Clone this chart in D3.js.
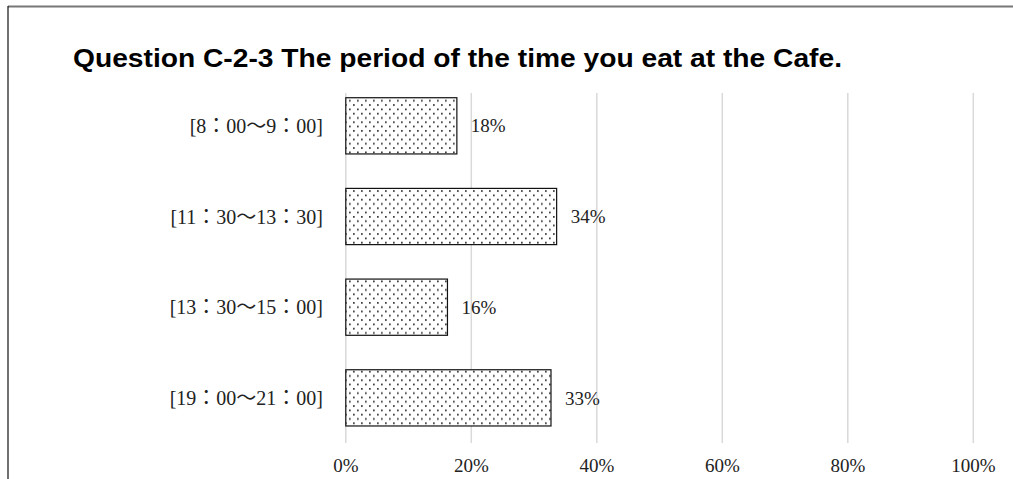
<!DOCTYPE html>
<html>
<head>
<meta charset="utf-8">
<script src="https://cdn.jsdelivr.net/npm/d3@7"></script>
<style>
  html, body { margin: 0; padding: 0; background: #fff; }
  svg { display: block; }
</style>
</head>
<body>
<svg id="chart" width="1013" height="479"></svg>
<script>
const title = "Question C-2-3 The period of the time you eat at the Cafe.";
const categories = ["[8：00～9：00]", "[11：30～13：30]", "[13：30～15：00]", "[19：00～21：00]"];
const values = [0.177, 0.336, 0.162, 0.327];
const dataLabels = ["18%", "34%", "16%", "33%"];
const ticks = [0, 0.2, 0.4, 0.6, 0.8, 1.0];
const tickLabels = ["0%", "20%", "40%", "60%", "80%", "100%"];

const svg = d3.select("#chart");
const serif = "'Liberation Serif', 'Noto Sans CJK JP', serif";

// pattern
const defs = svg.append("defs");
const pat = defs.append("pattern").attr("id", "dots")
  .attr("patternUnits", "userSpaceOnUse").attr("width", 8).attr("height", 8.6);
pat.append("rect").attr("width", 8).attr("height", 8.6).attr("fill", "#fff");
pat.append("rect").attr("x", 1).attr("y", 1).attr("width", 1.7).attr("height", 1.7).attr("fill", "#333");
pat.append("rect").attr("x", 5).attr("y", 5.3).attr("width", 1.7).attr("height", 1.7).attr("fill", "#333");

// frame
svg.append("line").attr("x1", 8).attr("x2", 1013).attr("y1", 6.5).attr("y2", 6.5)
  .attr("stroke", "#777").attr("stroke-width", 2);
svg.append("line").attr("x1", 8).attr("x2", 8).attr("y1", 6).attr("y2", 479)
  .attr("stroke", "#111").attr("stroke-width", 1.2);

// title
svg.append("text").attr("x", 73).attr("y", 67)
  .attr("font-family", "'Liberation Sans', Arial, sans-serif")
  .attr("font-weight", "bold").attr("font-size", 25).attr("fill", "#000")
  .attr("textLength", 769).attr("lengthAdjust", "spacingAndGlyphs")
  .text(title);

const x = d3.scaleLinear().domain([0, 1]).range([345.8, 973.3]);
const y = d3.scaleBand().domain(categories).range([80.5, 443.2])
  .paddingInner(0.38).paddingOuter(0.19);

// gridlines
svg.append("g").selectAll("line").data(ticks).join("line")
  .attr("x1", d => x(d)).attr("x2", d => x(d))
  .attr("y1", 93).attr("y2", 443)
  .attr("stroke", "#d9d9d9").attr("stroke-width", 1.5);

// x tick labels
svg.append("g").selectAll("text").data(ticks).join("text")
  .attr("x", d => x(d)).attr("y", 472)
  .attr("text-anchor", "middle")
  .attr("font-family", serif).attr("font-size", 19).attr("fill", "#222")
  .text((d, i) => tickLabels[i]);

// bars
svg.append("g").selectAll("rect").data(values).join("rect")
  .attr("x", x(0)).attr("y", (d, i) => y(categories[i]))
  .attr("width", d => x(d) - x(0)).attr("height", y.bandwidth())
  .attr("fill", "url(#dots)").attr("stroke", "#111").attr("stroke-width", 1.2);

// data labels
svg.append("g").selectAll("text").data(values).join("text")
  .attr("x", d => x(d) + 14)
  .attr("y", (d, i) => y(categories[i]) + y.bandwidth() / 2)
  .attr("dy", "0.35em")
  .attr("font-family", serif).attr("font-size", 19).attr("fill", "#222")
  .text((d, i) => dataLabels[i]);

// category labels
svg.append("g").selectAll("text").data(categories).join("text")
  .attr("x", 323)
  .attr("y", d => y(d) + y.bandwidth() / 2)
  .attr("dy", "0.35em")
  .attr("text-anchor", "end")
  .attr("font-family", serif).attr("font-size", 20).attr("fill", "#222")
  .text(d => d);
</script>
</body>
</html>
